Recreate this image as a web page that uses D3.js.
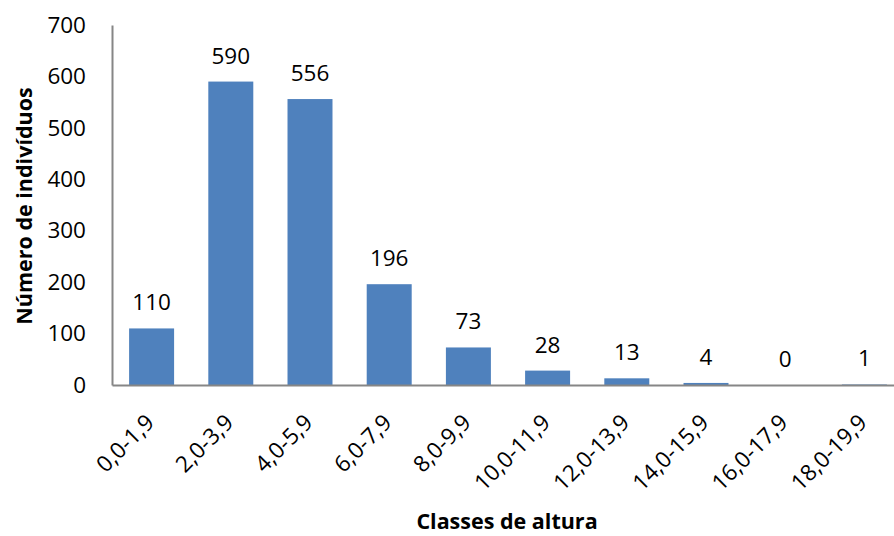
<!DOCTYPE html>
<html><head><meta charset="utf-8">
<script src="https://cdn.jsdelivr.net/npm/d3@7"></script>
<style>body{margin:0;background:#fff}svg{display:block}text{font-family:"Open Sans",sans-serif;fill:#000}</style>
</head><body><svg id="c" width="894" height="536"></svg>
<script>
const categories = ["0,0-1,9","2,0-3,9","4,0-5,9","6,0-7,9","8,0-9,9","10,0-11,9","12,0-13,9","14,0-15,9","16,0-17,9","18,0-19,9"];
const values = [110,590,556,196,73,28,13,4,0,1];
const yTicks = [0,100,200,300,400,500,600,700];
const yTitle = "Número de indivíduos";
const xTitle = "Classes de altura";

(function(){
const svg = d3.select("#c");
const mLeft = 112, mRight = 904, mTop = 25, mBottom = 385;
const fs = "22.5px";
const x = d3.scaleBand().domain(categories).range([mLeft, mRight]).paddingInner(0.432).paddingOuter(0.216);
const y = d3.scaleLinear().domain([0,700]).range([mBottom, mTop]);

svg.append("g").selectAll("rect").data(values).join("rect")
  .attr("x",(d,i)=>x(categories[i])).attr("width",x.bandwidth())
  .attr("y",d=>y(d)).attr("height",d=>y(0)-y(d)).attr("fill","#4F81BD");

svg.append("g").selectAll("text").data(values).join("text")
  .attr("x",(d,i)=>x(categories[i])+x.bandwidth()/2).attr("y",d=>y(d)-18)
  .attr("text-anchor","middle").style("font-size",fs).text(d=>d);

const ya = svg.append("g").attr("transform",`translate(${mLeft},0)`)
  .call(d3.axisLeft(y).tickValues(yTicks).tickSize(0).tickPadding(26));
ya.select(".domain").attr("stroke","#868686").attr("stroke-width",2);
ya.selectAll("text").style("font-size",fs).style("font-family","'Open Sans',sans-serif").attr("fill","#000");

const xa = svg.append("g").attr("transform",`translate(0,${mBottom})`)
  .call(d3.axisBottom(x).tickSize(0).tickPadding(0));
xa.select(".domain").attr("stroke","#868686").attr("stroke-width",2);
xa.selectAll("text").style("font-size",fs).style("font-family","'Open Sans',sans-serif").attr("fill","#000")
  .attr("text-anchor","end").attr("dy",null).attr("y",0).attr("x",0)
  .attr("transform","translate(4,39) rotate(-45)");

svg.append("text").attr("transform","translate(32,206) rotate(-90)").attr("text-anchor","middle")
  .style("font-size","21.5px").style("font-weight","bold").text(yTitle);
svg.append("text").attr("x",507).attr("y",529).attr("text-anchor","middle")
  .style("font-size","21.5px").style("font-weight","bold").text(xTitle);
})();
</script></body></html>
